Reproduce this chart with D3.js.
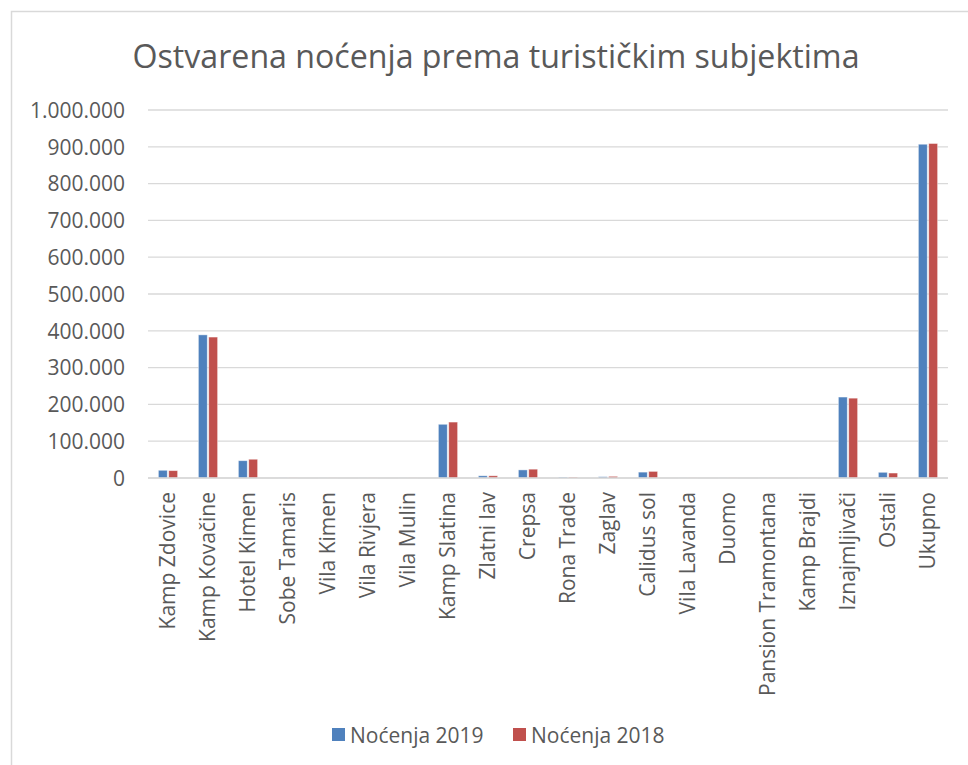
<!DOCTYPE html>
<html><head><meta charset="utf-8">
<script src="https://cdn.jsdelivr.net/npm/d3@7"></script>
<style>body{margin:0;background:#fff;} svg{display:block;}</style>
</head><body>
<svg id="c" width="968" height="765"></svg>
<script>
const categories = ["Kamp Zdovice","Kamp Kovačine","Hotel Kimen","Sobe Tamaris","Vila Kimen","Vila Rivjera","Vila Mulin","Kamp Slatina","Zlatni lav","Crepsa","Rona Trade","Zaglav","Calidus sol","Vila Lavanda","Duomo","Pansion Tramontana","Kamp Brajdi","Iznajmljivači","Ostali","Ukupno"];
const nocenja2019 = [21000,389000,47000,500,300,300,300,146000,6000,22000,2500,3500,16000,300,300,300,300,220000,15500,907000];
const nocenja2018 = [20000,383000,51000,500,300,300,300,152000,6000,24000,2500,4500,18000,300,300,300,300,217000,13500,909000];
const seriesNames = ["Noćenja 2019","Noćenja 2018"];
const colors = ["#4F81BD","#C0504D"];
const yTicks = [0,100000,200000,300000,400000,500000,600000,700000,800000,900000,1000000];

const svg = d3.select("#c");
const font = "'Open Sans', sans-serif";
const textColor = "#595959";

// chart frame
svg.append("rect").attr("x",11.5).attr("y",11.5).attr("width",970).attr("height",770)
  .attr("fill","#fff").attr("stroke","#d9d9d9").attr("stroke-width",1.5);

svg.append("text").attr("x",496).attr("y",68).attr("text-anchor","middle")
  .attr("font-family",font).attr("font-size",33).attr("fill",textColor)
  .attr("textLength",727).attr("lengthAdjust","spacingAndGlyphs")
  .text("Ostvarena noćenja prema turističkim subjektima");

const x0 = d3.scaleBand().domain(categories).range([148,948]);
const x1 = d3.scaleBand().domain([0,1]).range([0,x0.bandwidth()]).paddingInner(0.14).paddingOuter(1.0);
const y = d3.scaleLinear().domain([0,1000000]).range([478,110]);

const fmt = v => d3.format(",")(v).replace(/,/g,".");

// gridlines
svg.append("g").selectAll("line").data(yTicks).join("line")
  .attr("x1",148).attr("x2",948).attr("y1",d=>y(d)).attr("y2",d=>y(d))
  .attr("stroke","#d9d9d9").attr("stroke-width",1.3);

// y axis labels
const yAxis = d3.axisLeft(y).tickValues(yTicks).tickFormat(fmt).tickSize(0).tickPadding(0);
const gy = svg.append("g").attr("transform","translate(125,0)").call(yAxis);
gy.select(".domain").remove();
gy.selectAll("text").attr("font-family",font).attr("font-size",21).attr("fill",textColor).attr("dy","0.35em");

// bars
const groups = svg.append("g").selectAll("g").data(categories).join("g")
  .attr("transform",d=>`translate(${x0(d)},0)`);
groups.selectAll("rect").data((d,i)=>[nocenja2019[i],nocenja2018[i]]).join("rect")
  .attr("x",(d,j)=>x1(j)).attr("width",x1.bandwidth())
  .attr("y",d=>y(d)).attr("height",d=>y(0)-y(d))
  .attr("fill",(d,j)=>colors[j]).attr("stroke","rgba(255,255,255,0.55)").attr("stroke-width",0.8);

// baseline
svg.append("line").attr("x1",148).attr("x2",948).attr("y1",y(0)).attr("y2",y(0))
  .attr("stroke","#d9d9d9").attr("stroke-width",1.5);

// x axis labels
const xAxis = d3.axisBottom(x0).tickSize(0).tickPadding(0);
const gx = svg.append("g").attr("transform","translate(0,492)").call(xAxis);
gx.select(".domain").remove();
gx.selectAll("text").attr("font-family",font).attr("font-size",21).attr("fill",textColor)
  .attr("text-anchor","end")
  .attr("transform","rotate(-90)").attr("x",0).attr("y",0)
  .attr("dy","0.35em");

// legend
const legend = svg.append("g");
const lx = [332,513];
seriesNames.forEach((n,i)=>{
  legend.append("rect").attr("x",lx[i]).attr("y",728).attr("width",13).attr("height",13).attr("fill",colors[i]);
  legend.append("text").attr("x",lx[i]+18).attr("y",743).attr("font-family",font).attr("font-size",21)
    .attr("fill",textColor).text(n);
});
</script>
</body></html>
